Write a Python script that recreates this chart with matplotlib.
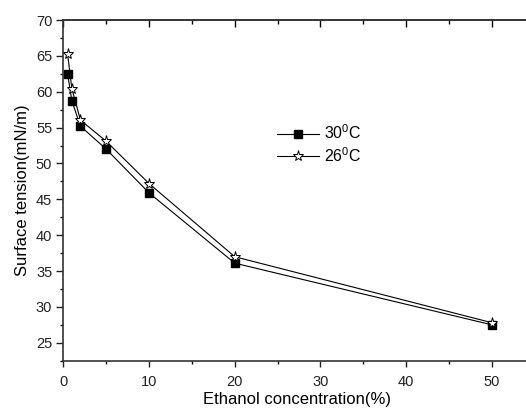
import matplotlib
matplotlib.use("Agg")
import matplotlib.pyplot as plt
from matplotlib.ticker import MultipleLocator

plt.rcParams['font.family'] = ['Liberation Sans', 'DejaVu Sans']
plt.rcParams['mathtext.fontset'] = 'custom'
plt.rcParams['mathtext.rm'] = 'Liberation Sans'
plt.rcParams['mathtext.it'] = 'Liberation Sans'

conc = [0.5, 1, 2, 5, 10, 20, 50]
t30 = [62.5, 58.7, 55.2, 52.0, 45.9, 36.1, 27.5]
t26 = [65.2, 60.4, 56.05, 53.1, 47.2, 37.0, 27.8]
labels = ['30$^{0}$C', '26$^{0}$C']
xticks = [0, 10, 20, 30, 40, 50]
yticks = [25, 30, 35, 40, 45, 50, 55, 60, 65, 70]

fig = plt.figure(figsize=(5.26, 4.09), dpi=100)
ax = fig.add_axes([0.1204, 0.1181, 0.8896, 0.8329])

ax.plot(conc, t30, color='black', lw=0.8, marker='s', markersize=6,
        markerfacecolor='black', markeredgecolor='black', label=labels[0], zorder=3)
ax.plot(conc, t26, color='black', lw=0.8, marker='*', markersize=8,
        markerfacecolor='white', markeredgecolor='black', markeredgewidth=0.7,
        label=labels[1], zorder=4)

ax.set_xlim(0, 54.6)
ax.set_ylim(22.5, 70)
ax.set_xticks(xticks)
ax.set_yticks(yticks)
ax.xaxis.set_minor_locator(MultipleLocator(5))
ax.yaxis.set_minor_locator(MultipleLocator(2.5))
ax.tick_params(axis='both', which='major', direction='out', length=4.5, width=1, labelsize=10.5, colors='#222222')
ax.tick_params(axis='both', which='minor', direction='out', length=2.5, width=1)
ax.tick_params(axis='y', which='major', length=5, pad=3)
ax.tick_params(axis='x', pad=6)

for s in ['left', 'bottom', 'top']:
    ax.spines[s].set_linewidth(1.2)
    ax.spines[s].set_color('#333333')
ax.spines['right'].set_visible(False)

top = ax.secondary_xaxis('top')
top.set_xticks(xticks)
top.xaxis.set_minor_locator(MultipleLocator(5))
top.tick_params(which='major', direction='in', length=5, width=1, labeltop=False)
top.tick_params(which='minor', direction='in', length=3, width=1)
top.spines['top'].set_linewidth(1.2)
top.spines['top'].set_color('#333333')

ax.set_xlabel('Ethanol concentration(%)', fontsize=12, labelpad=2)
ax.set_ylabel('Surface tension(mN/m)', fontsize=12, labelpad=4)

ax.legend(loc='upper left', bbox_to_anchor=(0.443, 0.715), frameon=False, fontsize=11.5,
          handlelength=2.6, handletextpad=0.35, labelspacing=0.25, borderaxespad=0)

fig.savefig('out.png', dpi=100)
